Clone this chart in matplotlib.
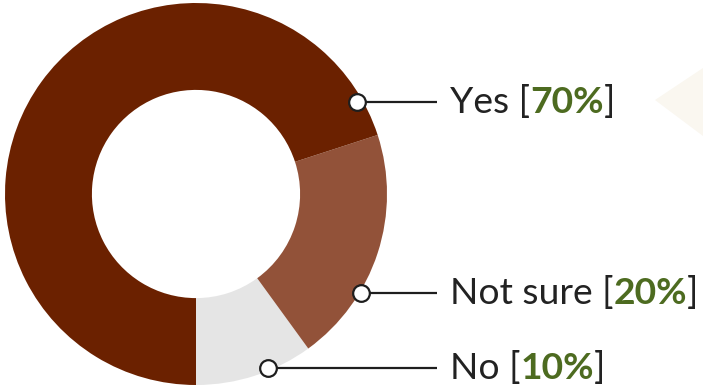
import matplotlib
matplotlib.use("Agg")
import matplotlib.pyplot as plt
from matplotlib.patches import Polygon
import numpy as np

# Data
categories = ["No", "Not sure", "Yes"]
values = [10, 20, 70]
colors = ["#e5e5e5", "#925239", "#6b2100"]

# label layout (image pixel rows, from top)
label_rows = {"Yes": 102, "Not sure": 293, "No": 368}
marker_cols = {"Yes": 357, "Not sure": 361, "No": 268}

W, H = 703, 387
fig = plt.figure(figsize=(W / 100, H / 100), dpi=100)
ax = fig.add_axes([0, 0, 1, 1])
ax.set_xlim(0, W)
ax.set_ylim(0, H)
ax.set_aspect("equal")
ax.axis("off")

# faint beige chevron at right
ax.add_patch(Polygon([[655, H - 100], [703, H - 68], [703, H - 136]], closed=True,
                     facecolor="#faf7f0", edgecolor="none", zorder=0))

cx, cy = 196, H - 194
R = 191
wedges, _ = ax.pie(values, colors=colors, startangle=-90, counterclock=True,
                   center=(cx, cy), radius=R, frame=True,
                   wedgeprops=dict(width=R * 0.455, edgecolor="none"))
ax.set_xlim(0, W)
ax.set_ylim(0, H)
ax.axis("off")

font = "Lato"
fs = 26.8
for cat, val in zip(categories, values):
    y = H - label_rows[cat]
    mx = marker_cols[cat]
    ax.plot([mx, 437], [y, y], color="#1e1e1e", lw=1.6, zorder=5, solid_capstyle="butt")
    ax.plot([mx], [y], marker="o", ms=12, mfc="white", mec="#1e1e1e", mew=1.6, zorder=6)
    t1 = ax.text(450, y, f"{cat} [", fontsize=fs, family=font, color="#222222",
                 va="center", ha="left", zorder=7)
    t2 = ax.annotate(f"{val}%", xy=(1, 0), xycoords=t1, xytext=(0, 0),
                     textcoords="offset points", fontsize=fs, family=font,
                     fontweight="bold", color="#4d6b20", va="bottom", ha="left")
    t3 = ax.annotate("]", xy=(1, 0), xycoords=t2, xytext=(0, 0),
                     textcoords="offset points", fontsize=fs, family=font,
                     color="#222222", va="bottom", ha="left")

fig.savefig("out.png", dpi=100, facecolor="white")
